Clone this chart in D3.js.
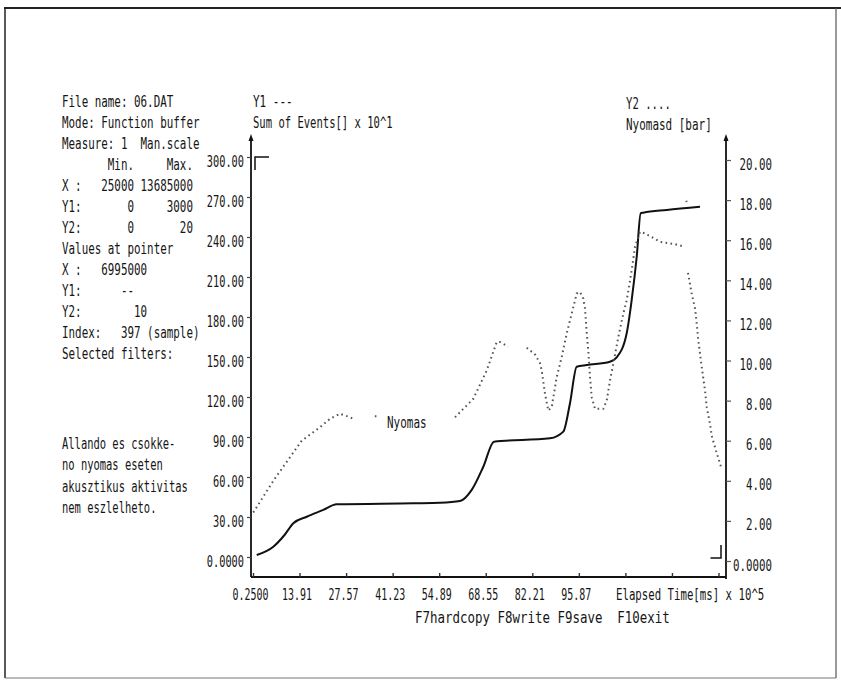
<!DOCTYPE html>
<html><head><meta charset="utf-8">
<script src="https://cdn.jsdelivr.net/npm/d3@7"></script>
<style>
body{margin:0;background:#fff;}
svg text{font-family:"DejaVu Sans Mono",monospace;fill:#151515;white-space:pre;}
</style></head><body>
<svg id="c" width="841" height="683"></svg>
<script>
// ---- data ----
const xTickValues = [0.25, 13.91, 27.57, 41.23, 54.89, 68.55, 82.21, 95.87, 109.53, 123.19, 136.85];
const xTickLabels = ["0.2500","13.91","27.57","41.23","54.89","68.55","82.21","95.87","","",""];
const y1TickValues = [0,30,60,90,120,150,180,210,240,270,300];
const y1TickLabels = ["0.0000","30.00","60.00","90.00","120.00","150.00","180.00","210.00","240.00","270.00","300.00"];
const y2TickValues = [0,2,4,6,8,10,12,14,16,18,20];
const y2TickLabels = ["0.0000","2.00","4.00","6.00","8.00","10.00","12.00","14.00","16.00","18.00","20.00"];

// Y1: Sum of Events[] x 10^1 (solid)
const eventsX = [1.34, 6.21, 9.5, 12.08, 16.01, 20.88, 24.81, 47.29, 55.13, 61.0, 64.43, 67.83, 70.97, 87.41, 91.31, 93.27, 95.24, 98.18, 105.0, 106.98, 109.91, 111.38, 112.85, 114.02, 114.78, 121.65, 131.42];
const eventsY = [1.5, 7.7, 16.5, 25.3, 30.2, 35.3, 39.5, 40.3, 40.7, 42, 50.3, 67.7, 86.5, 89, 94, 115.3, 142.7, 144, 146.5, 149.8, 167.8, 192.8, 225.2, 257.8, 258.2, 260.3, 262.7];

// Y2: Nyomasd [bar] (dotted), null = gap
const pressureX = [0.34, 6.21, 14.54, 19.91, 22.85, 25.78, 28.72, 29.6, 33.0, 36.0, 36.7, 45.0,
  59.53, 64.9, 68.83, 71.76, 72.73, 75.17, 78.0,
  80.57, 83.0, 84.47, 84.97, 85.94, 86.9, 87.9, 89.37, 90.84, 92.3, 93.77, 95.24, 96.21, 97.18, 97.68, 98.17, 98.64, 99.14, 99.64, 100.61, 103.05, 104.05, 105.01, 105.98, 107.45, 108.92, 109.91, 111.38, 112.35, 113.82, 115.29, 119.69, 124.1, 127.03, 127.2, 127.4, 127.5, 127.7, 127.9, 128.98, 129.96, 130.46, 130.93, 131.93, 132.9, 133.4, 134.36, 134.86, 136.12, 137.58];
const pressureY = [2.42, 4.0, 6.0, 6.67, 7.09, 7.34, 7.17, 7.1, null, 7.22, 7.22, null,
  7.17, 8.09, 9.5, 10.92, 10.92, 10.7, null,
  10.64, 10.3, 9.87, 9.5, 8.34, 7.5, 7.67, 9.17, 10.17, 11.34, 12.34, 13.34, 13.42, 13.09, 12.59, 11.42, 10.5, 9.17, 8.17, 7.59, 7.59, 8.0, 9.0, 9.84, 11.17, 12.34, 13.0, 14.5, 15.67, 16.42, 16.34, 15.92, 15.8, 15.67, null, 17.97, 17.9, null, 14.37, 13.34, 12.59, 11.84, 11.0, 9.67, 8.5, 7.67, 6.84, 6.25, 5.5, 4.7];

const infoLines = ["File name: 06.DAT","Mode: Function buffer","Measure: 1  Man.scale","       Min.     Max.","X :   25000 13685000","Y1:       0     3000","Y2:       0       20","Values at pointer","X :   6995000","Y1:      --","Y2:        10","Index:   397 (sample)","Selected filters:"];
const noteLines = ["Allando es csokke-","no nyomas eseten","akusztikus aktivitas","nem eszlelheto."];

// ---- drawing ----
const svg = d3.select("#c");
const x = d3.scaleLinear().domain([0.25, 136.85]).range([253, 718.5]);
const y1 = d3.scaleLinear().domain([0, 300]).range([557, 157]);
const y2 = d3.scaleLinear().domain([0, 20]).range([561, 160]);
const axL = 251, axR = 726, axB = 577, axTop = 137;
const ADV = 0.602; // DejaVu Sans Mono advance per em

function txt(px, py, s, size, cw, anchor) {
  const sx = cw / (ADV * size);
  return svg.append("text").attr("transform", `translate(${px},${py}) scale(${sx.toFixed(4)},1)`)
    .attr("font-size", size).attr("text-anchor", anchor || "start").text(s);
}
function squeeze(sel, size, cw, tx, ty) {
  const sx = cw / (ADV * size);
  sel.attr("font-family", null).attr("font-size", size).attr("x", null).attr("y", null).attr("dy", null)
    .attr("fill", "#151515")
    .attr("transform", `translate(${tx},${ty}) scale(${sx.toFixed(4)},1)`);
}

// frame
const frame = svg.append("g").attr("stroke", "#222").attr("fill", "none");
frame.append("line").attr("x1", 4).attr("y1", 8).attr("x2", 841).attr("y2", 8).attr("stroke-width", 2);
frame.append("line").attr("x1", 5).attr("y1", 8).attr("x2", 5).attr("y2", 678).attr("stroke-width", 1.5);
frame.append("line").attr("x1", 836).attr("y1", 8).attr("x2", 836).attr("y2", 678).attr("stroke-width", 1.2).attr("stroke", "#555");
frame.append("line").attr("x1", 5).attr("y1", 678).attr("x2", 836).attr("y2", 678).attr("stroke-width", 1.2).attr("stroke", "#777");

// left info text
infoLines.forEach((s, i) => txt(62, 106.5 + 21 * i, s, 15, 6.55));
noteLines.forEach((s, i) => txt(62, 448.5 + 21.5 * i, s, 15, 6.3));

// top labels
txt(253, 106.5, "Y1 ---", 15, 6.6);
txt(253, 127.5, "Sum of Events[] x 10^1", 15, 6.35);
txt(626, 108.5, "Y2 ....", 15, 6.4);
txt(626, 129.5, "Nyomasd [bar]", 15, 6.6);

// axes lines with arrows
const axes = svg.append("g").attr("stroke", "#111").attr("stroke-width", 1.8);
axes.append("line").attr("x1", axL).attr("y1", axTop).attr("x2", axL).attr("y2", axB);
axes.append("line").attr("x1", axR).attr("y1", axTop).attr("x2", axR).attr("y2", axB + 2);
axes.append("line").attr("x1", axL).attr("y1", axB).attr("x2", axR).attr("y2", axB);
[[axL, axTop], [axR, axTop]].forEach(([ax, ay]) => {
  svg.append("path").attr("d", `M${ax-2.5},${ay+4}L${ax},${ay-3}L${ax+2.5},${ay+4}Z`).attr("fill", "#111");
});

// left axis
const gL = svg.append("g").attr("transform", `translate(${axL},0)`)
  .call(d3.axisLeft(y1).tickValues(y1TickValues).tickFormat((d, i) => y1TickLabels[i]).tickSize(4).tickSizeOuter(0));
gL.select(".domain").remove();
gL.selectAll(".tick line").attr("stroke", "#444").attr("stroke-width", 1.2);
squeeze(gL.selectAll(".tick text"), 16, 6.2, -7, 9.8);

// right axis
const gR = svg.append("g").attr("transform", `translate(${axR},0)`)
  .call(d3.axisRight(y2).tickValues(y2TickValues).tickFormat((d, i) => y2TickLabels[i]).tickSize(5).tickSizeOuter(0));
gR.select(".domain").remove();
gR.selectAll(".tick line").attr("stroke", "#555").attr("stroke-width", 1.2);
squeeze(gR.selectAll(".tick text"), 16, 6.5, 46, 9);
gR.selectAll(".tick text").attr("text-anchor", "end");

// bottom axis
const gB = svg.append("g").attr("transform", `translate(0,${axB})`)
  .call(d3.axisBottom(x).tickValues(xTickValues).tickFormat((d, i) => xTickLabels[i]).tickSizeInner(-4).tickSizeOuter(0));
gB.select(".domain").remove();
gB.selectAll(".tick line").attr("stroke", "#333").attr("stroke-width", 1.4);
squeeze(gB.selectAll(".tick text"), 16, 6.0, -3, 23);
txt(616, 600, "Elapsed Time[ms] x 10^5", 16, 6.45);
txt(415, 623, "F7hardcopy F8write F9save  F10exit", 16, 7.5);

// scale corner markers
const cm = svg.append("g").attr("stroke", "#111").attr("stroke-width", 1.5).attr("fill", "none");
cm.append("path").attr("d", `M${x(0.25)+2},${y1(300)+13}V${y1(300)}H${x(0.25)+16}`);
cm.append("path").attr("d", `M${x(136.85)-8},${y1(0)+1}H${x(136.85)+2.5}V${y1(0)-12}`);

// series
const solid = d3.line().curve(d3.curveMonotoneX).x(d => x(d[0])).y(d => y1(d[1]));
svg.append("path").datum(eventsX.map((v, i) => [v, eventsY[i]]))
  .attr("d", solid).attr("fill", "none").attr("stroke", "#111").attr("stroke-width", 2).attr("stroke-linejoin", "round");

const dotted = d3.line().defined(d => d[1] !== null).x(d => x(d[0])).y(d => y2(d[1]));
svg.append("path").datum(pressureX.map((v, i) => [v, pressureY[i]]))
  .attr("d", dotted).attr("fill", "none").attr("stroke", "#555").attr("stroke-width", 2)
  .attr("stroke-dasharray", "1.6,3.4");

// series label
txt(387, 428, "Nyomas", 15, 6.6);
</script>
</body></html>
